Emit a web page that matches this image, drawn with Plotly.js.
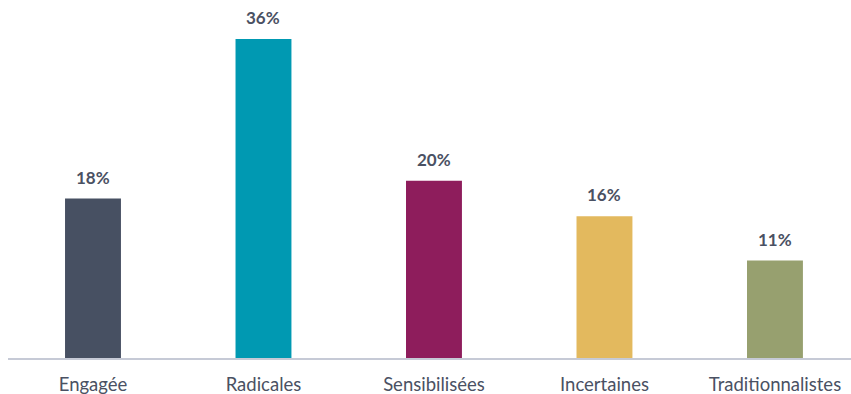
<!DOCTYPE html>
<html><head><meta charset="utf-8">
<script src="https://cdn.plot.ly/plotly-3.0.1.min.js"></script>
<style>html,body{margin:0;padding:0;background:#fff}#chart{width:851px;height:394px}</style>
</head><body><div id="chart"></div>
<script>
const categories = ["Engagée", "Radicales", "Sensibilisées", "Incertaines", "Traditionnalistes"];
const values = [18, 36, 20, 16, 11];
const valueLabels = ["18%", "36%", "20%", "16%", "11%"];
const colors = ["#475062", "#0099b2", "#8e1d5c", "#e3b95e", "#97a06f"];

const trace = {
  type: "bar",
  x: categories,
  y: values,
  marker: {color: colors},
  width: 0.328,
  cliponaxis: false,
  hoverinfo: "none"
};

const annotations = categories.map((c, i) => ({
  x: c, y: values[i], xref: "x", yref: "y",
  text: "<b>" + valueLabels[i] + "</b>",
  showarrow: false, yanchor: "bottom", yshift: 9,
  font: {family: "Lato, 'Open Sans', sans-serif", size: 17, color: "#4a5163"}
}));

const layout = {
  width: 851, height: 394,
  margin: {l: 8, r: 0, t: 0, b: 36, pad: 0},
  paper_bgcolor: "#fff", plot_bgcolor: "#fff",
  showlegend: false,
  annotations: annotations,
  xaxis: {
    type: "category",
    range: [-0.4985, 4.446],
    showline: true, linecolor: "#c6cad6", linewidth: 2,
    ticks: "", showgrid: false, zeroline: false,
    tickfont: {family: "Lato, 'Open Sans', sans-serif", size: 18.5, color: "#4a5163"},
    ticklabelstandoff: 9
  },
  yaxis: {
    range: [0, 40.4],
    visible: false, showgrid: false, zeroline: false
  }
};

Plotly.newPlot("chart", [trace], layout, {displayModeBar: false, staticPlot: true});
</script></body></html>
